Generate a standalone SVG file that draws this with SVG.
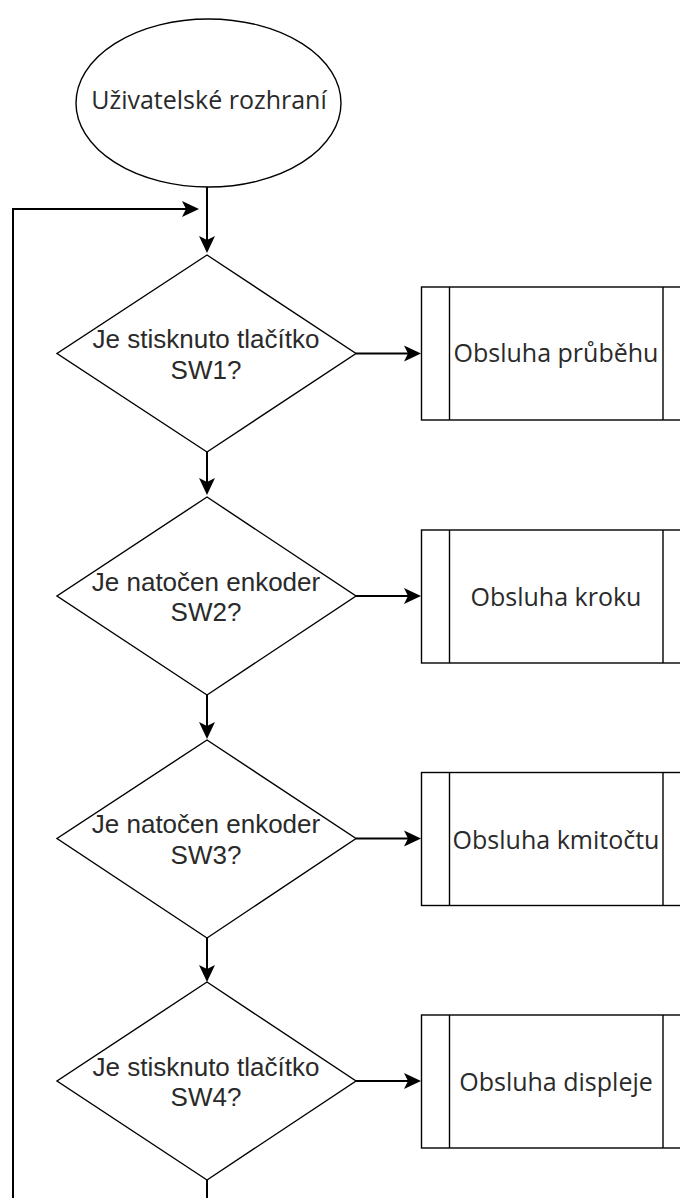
<svg xmlns="http://www.w3.org/2000/svg" width="680" height="1198" viewBox="0 0 680 1198">
  <style>
    .shape { fill: #ffffff; stroke: #000000; stroke-width: 1.4; }
    .edge { fill: none; stroke: #000000; stroke-width: 2; }
    .q { font-family: "Liberation Sans", Arial, sans-serif; font-size: 26px; fill: #2a2a2a; text-anchor: middle; }
    .lbl { font-family: "Open Sans", "Noto Sans", sans-serif; font-size: 25px; fill: #2a2a2a; text-anchor: middle; }
  </style>
  <defs>
    <marker id="arrow" markerUnits="userSpaceOnUse" markerWidth="18" markerHeight="18" refX="4" refY="8" orient="auto" overflow="visible">
      <path d="M0,0 L17,8 L0,16 L4,8 Z" fill="#000000"/>
    </marker>
  </defs>

  <rect width="680" height="1198" fill="#ffffff"/>

  <!-- connectors -->
  <g id="connectors">
    <path class="edge" d="M207,187 V240" marker-end="url(#arrow)"/>
    <path class="edge" d="M207,1180 V1215 H13 V209 H186" marker-end="url(#arrow)"/>
    <path class="edge" d="M207,452 V482" marker-end="url(#arrow)"/>
    <path class="edge" d="M207,695 V726" marker-end="url(#arrow)"/>
    <path class="edge" d="M207,938 V969" marker-end="url(#arrow)"/>
    <path class="edge" d="M356,353.5 H408" marker-end="url(#arrow)"/>
    <path class="edge" d="M356,596 H408" marker-end="url(#arrow)"/>
    <path class="edge" d="M356,838.5 H408" marker-end="url(#arrow)"/>
    <path class="edge" d="M356,1081 H408" marker-end="url(#arrow)"/>
  </g>

  <!-- start -->
  <g id="start">
    <ellipse class="shape" cx="208.5" cy="103" rx="132.5" ry="84"/>
    <text class="lbl" x="209" y="109">Uživatelské rozhraní</text>
  </g>

  <!-- decisions -->
  <g id="sw1">
    <polygon class="shape" points="207,255 356,353.5 207,452 57,353.5"/>
    <text class="q" x="206" y="348">Je stisknuto tlačítko</text>
    <text class="q" x="206" y="378.5">SW1?</text>
  </g>
  <g id="sw2">
    <polygon class="shape" points="207,497 356,596 207,695 57,596"/>
    <text class="q" x="206" y="590.5">Je natočen enkoder</text>
    <text class="q" x="206" y="621">SW2?</text>
  </g>
  <g id="sw3">
    <polygon class="shape" points="207,740 356,838.5 207,938 57,838.5"/>
    <text class="q" x="206" y="833">Je natočen enkoder</text>
    <text class="q" x="206" y="863.5">SW3?</text>
  </g>
  <g id="sw4">
    <polygon class="shape" points="207,982 356,1081 207,1180 57,1081"/>
    <text class="q" x="206" y="1075.5">Je stisknuto tlačítko</text>
    <text class="q" x="206" y="1106">SW4?</text>
  </g>

  <!-- subprocesses -->
  <g id="prubeh">
    <rect class="shape" x="421.5" y="287" width="270" height="133"/>
    <line class="shape" x1="449.5" y1="287" x2="449.5" y2="420"/>
    <line class="shape" x1="663" y1="287" x2="663" y2="420"/>
    <text class="lbl" x="556" y="361.5">Obsluha průběhu</text>
  </g>
  <g id="krok">
    <rect class="shape" x="421.5" y="530" width="270" height="133"/>
    <line class="shape" x1="449.5" y1="530" x2="449.5" y2="663"/>
    <line class="shape" x1="663" y1="530" x2="663" y2="663"/>
    <text class="lbl" x="556" y="605.5">Obsluha kroku</text>
  </g>
  <g id="kmitocet">
    <rect class="shape" x="421.5" y="772.5" width="270" height="133"/>
    <line class="shape" x1="449.5" y1="772.5" x2="449.5" y2="905.5"/>
    <line class="shape" x1="663" y1="772.5" x2="663" y2="905.5"/>
    <text class="lbl" x="556" y="848.5">Obsluha kmitočtu</text>
  </g>
  <g id="displej">
    <rect class="shape" x="421.5" y="1015" width="270" height="133"/>
    <line class="shape" x1="449.5" y1="1015" x2="449.5" y2="1148"/>
    <line class="shape" x1="663" y1="1015" x2="663" y2="1148"/>
    <text class="lbl" x="556" y="1090.5">Obsluha displeje</text>
  </g>
</svg>
